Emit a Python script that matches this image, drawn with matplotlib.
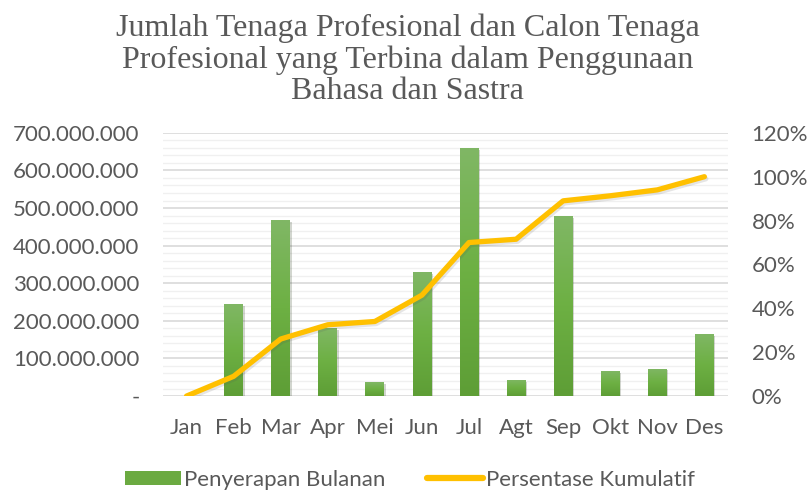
import numpy as np
import matplotlib.pyplot as plt
import matplotlib.patheffects as pe
from matplotlib.ticker import FuncFormatter, MultipleLocator
from matplotlib.lines import Line2D
from matplotlib.patches import Patch
from matplotlib.colors import LinearSegmentedColormap

# data
months = ['Jan', 'Feb', 'Mar', 'Apr', 'Mei', 'Jun', 'Jul', 'Agt', 'Sep', 'Okt', 'Nov', 'Des']
penyerapan = [0, 245e6, 468e6, 181e6, 37e6, 330e6, 660e6, 43e6, 479e6, 67e6, 73e6, 165e6]
kumulatif = [0, 9, 26, 32.5, 34, 46, 70, 71.5, 89, 91.3, 94, 100]

title = ('Jumlah Tenaga Profesional dan Calon Tenaga\n'
         'Profesional yang Terbina dalam Penggunaan\n'
         'Bahasa dan Sastra')

txt = '#595959'
green = '#6BAA41'
yellow = '#FFC000'
sans = ['Lato', 'DejaVu Sans']
green_grad = LinearSegmentedColormap.from_list('g', ['#5E9E36', '#6DB043', '#80B765'])

fig = plt.figure(figsize=(8.07, 4.92), dpi=100)
ax = fig.add_axes([0.202, 0.195, 0.700, 0.535])
ax2 = ax.twinx()

x = np.arange(len(months))
bars = ax.bar(x, penyerapan, width=0.4, color=green, zorder=3,
              path_effects=[pe.SimplePatchShadow(offset=(1.2, -1.2), alpha=0.2), pe.Normal()])

# vertical gradient inside each bar
grad = np.linspace(0, 1, 100).reshape(-1, 1)
for b in bars:
    h = b.get_height()
    if h <= 0:
        continue
    im = ax.imshow(grad, cmap=green_grad, origin='lower', aspect='auto', zorder=3.5,
                   extent=(b.get_x(), b.get_x() + b.get_width(), 0, h))
    im.set_clip_path(b)
ax.set_aspect('auto')

ax2.plot(x, kumulatif, color=yellow, lw=3.8, solid_capstyle='round', solid_joinstyle='round',
         zorder=4,
         path_effects=[pe.SimpleLineShadow(offset=(1, -1.5), alpha=0.15, shadow_color='#555555'),
                       pe.Normal()])

ax.set_ylim(0, 700e6)
ax2.set_ylim(0, 120)
ax.set_xlim(-0.5, len(months) - 0.5)

ax.yaxis.set_major_locator(MultipleLocator(100e6))
ax.yaxis.set_minor_locator(MultipleLocator(20e6))
ax2.yaxis.set_major_locator(MultipleLocator(20))

def fmt_left(v, pos):
    if v == 0:
        return '-'
    return f'{int(round(v)):,}'.replace(',', '.')

ax.yaxis.set_major_formatter(FuncFormatter(fmt_left))
ax2.yaxis.set_major_formatter(FuncFormatter(lambda v, p: f'{int(v)}%'))

ax.grid(which='major', axis='y', color='#D9D9D9', lw=1.2, zorder=0)
ax.grid(which='minor', axis='y', color='#F0F0F0', lw=1.0, zorder=0)
ax.set_axisbelow(True)

for a in (ax, ax2):
    for s in a.spines.values():
        s.set_visible(False)
    a.tick_params(length=0, colors=txt, labelsize=16)
    for lab in a.get_yticklabels():
        lab.set_family(sans)
ax.tick_params(axis='y', which='minor', length=0)
ax.set_xticks(x)
ax.set_xticklabels(months, family=sans, fontsize=16, color=txt)
ax.tick_params(axis='x', pad=16)
ax.tick_params(axis='y', pad=17)
ax2.tick_params(axis='y', pad=17)

fig.text(0.505, 0.972, title, ha='center', va='top', fontsize=23, color=txt,
         family=['Liberation Serif'], linespacing=1.1)

handles = [Patch(facecolor=green, edgecolor='none'),
           Line2D([0], [0], color=yellow, lw=4.5, solid_capstyle='round')]
leg = fig.legend(handles, ['Penyerapan Bulanan', 'Persentase Kumulatif'], loc='center',
                 bbox_to_anchor=(0.508, 0.025), ncol=2, frameon=False,
                 prop={'family': sans, 'size': 16}, handlelength=2.5, handleheight=0.6,
                 handletextpad=0.12, columnspacing=1.9, labelcolor=txt)

fig.savefig('out.png', dpi=100)
